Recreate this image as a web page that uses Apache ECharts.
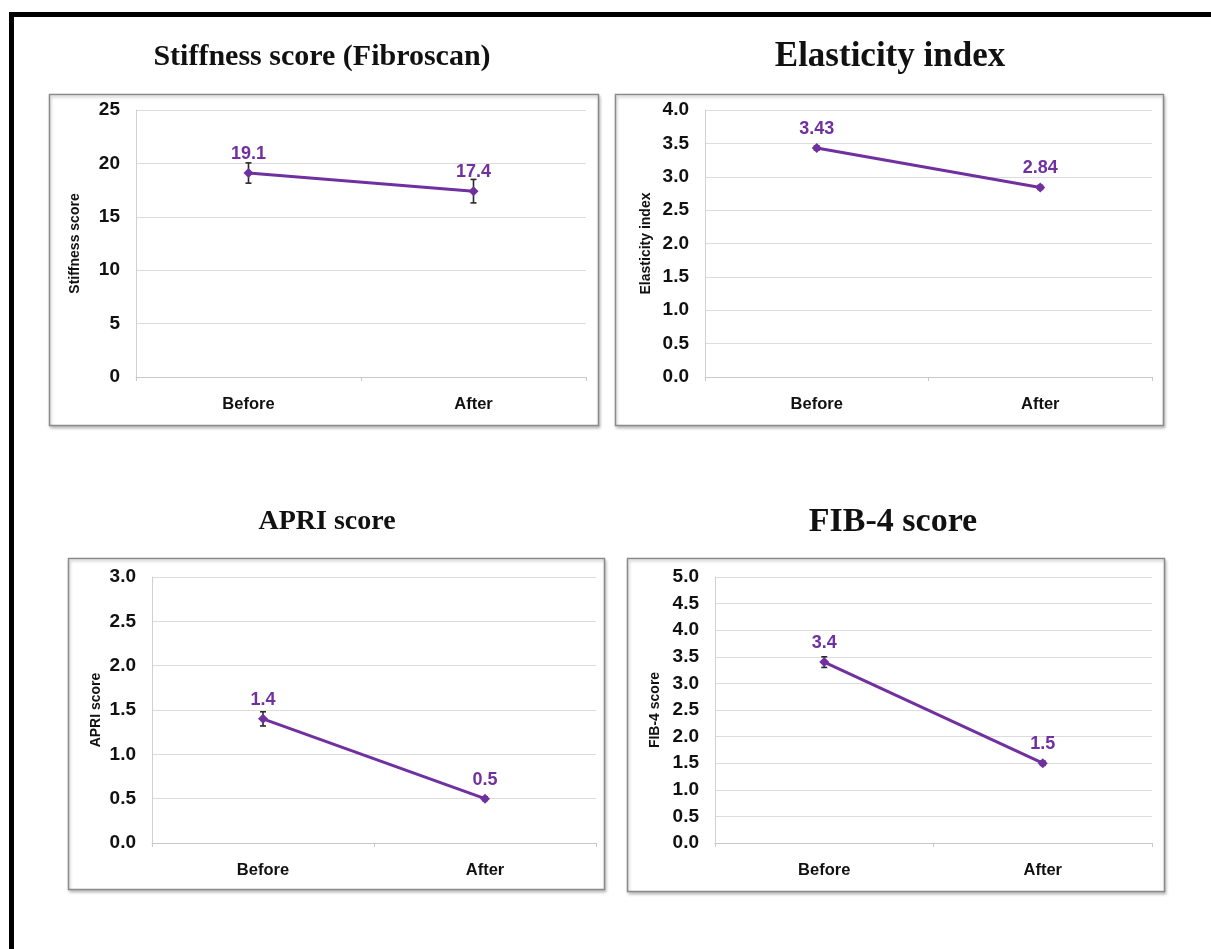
<!DOCTYPE html>
<html>
<head>
<meta charset="utf-8">
<script src="https://cdn.jsdelivr.net/npm/echarts@6/dist/echarts.min.js"></script>
<style>
html,body{margin:0;padding:0;background:#fff;}
#c{width:1211px;height:949px;}
</style>
</head>
<body>
<div id="c"></div>
<script>
// ---- data ----
const categories = ['Before', 'After'];

const panelTitles = ['Stiffness score (Fibroscan)', 'Elasticity index', 'APRI score', 'FIB-4 score'];
const axisNames = ['Stiffness score', 'Elasticity index', 'APRI score', 'FIB-4 score'];

const stiffnessValues = [19.1, 17.4];
const stiffnessErr = [0.95, 1.1];
const elasticityValues = [3.43, 2.84];
const elasticityErr = [0.03, 0.03];
const apriValues = [1.4, 0.5];
const apriErr = [0.08, 0.02];
const fib4Values = [3.4, 1.5];
const fib4Err = [0.1, 0.04];

const stiffnessLabels = ['19.1', '17.4'];
const elasticityLabels = ['3.43', '2.84'];
const apriLabels = ['1.4', '0.5'];
const fib4Labels = ['3.4', '1.5'];

const yMax = [25, 4, 3, 5];
const yInterval = [5, 0.5, 0.5, 0.5];
const yDecimals = [0, 1, 1, 1];

const allValues = [stiffnessValues, elasticityValues, apriValues, fib4Values];
const allErr = [stiffnessErr, elasticityErr, apriErr, fib4Err];
const allLabels = [stiffnessLabels, elasticityLabels, apriLabels, fib4Labels];

// ---- layout (positions only) ----
const grids = [
  {left: 136, right: 625, top: 110, bottom: 572},
  {left: 705, right: 59, top: 110, bottom: 572},
  {left: 152, right: 615, top: 577, bottom: 106},
  {left: 715, right: 59, top: 577, bottom: 106}
];
const boxes = [
  [49, 94, 598, 425],
  [615, 94, 1163, 425],
  [68, 558, 604, 889],
  [627, 558, 1164, 891]
];
const titlePos = [[322, 57, 30], [890, 57, 35], [327, 522, 28], [893, 522, 34]];
const nameGaps = [54, 52, 49, 53];

const purple = '#7030A0';
const tickFont = 'Liberation Sans';

const option = {
  backgroundColor: '#ffffff',
  animation: false,
  grid: grids.map(g => Object.assign({containLabel: false}, g)),
  xAxis: grids.map((g, i) => ({
    type: 'category',
    gridIndex: i,
    data: categories,
    boundaryGap: true,
    axisLine: {show: true, lineStyle: {color: '#c8c8c8', width: 1}},
    axisTick: {show: true, length: 4, lineStyle: {color: '#c8c8c8'}},
    axisLabel: {color: '#111', fontFamily: tickFont, fontWeight: 'bold', fontSize: 16.5, margin: 19}
  })),
  yAxis: grids.map((g, i) => ({
    type: 'value',
    gridIndex: i,
    min: 0,
    max: yMax[i],
    interval: yInterval[i],
    name: axisNames[i],
    nameLocation: 'middle',
    nameGap: nameGaps[i],
    nameTextStyle: {color: '#111', fontFamily: tickFont, fontWeight: 'bold', fontSize: 14},
    axisLine: {show: true, lineStyle: {color: '#d0d0d0', width: 1}},
    axisTick: {show: false},
    axisLabel: {
      color: '#111', fontFamily: tickFont, fontWeight: 'bold', fontSize: 19, margin: 16,
      formatter: v => v.toFixed(yDecimals[i])
    },
    splitLine: {show: true, lineStyle: {color: '#dcdcdc', width: 1}}
  })),
  series: []
};

allValues.forEach((vals, i) => {
  option.series.push({
    type: 'custom',
    xAxisIndex: i,
    yAxisIndex: i,
    z: 1,
    data: vals.map((v, k) => [k, v - allErr[i][k], v + allErr[i][k]]),
    encode: {x: 0, y: [1, 2]},
    renderItem: function (params, api) {
      const x = api.value(0);
      const lo = api.coord([x, api.value(1)]);
      const hi = api.coord([x, api.value(2)]);
      const cap = 3;
      const st = {stroke: '#2a2a2a', lineWidth: 1.6};
      return {
        type: 'group',
        children: [
          {type: 'line', shape: {x1: lo[0], y1: lo[1], x2: hi[0], y2: hi[1]}, style: st},
          {type: 'line', shape: {x1: hi[0] - cap, y1: hi[1], x2: hi[0] + cap, y2: hi[1]}, style: st},
          {type: 'line', shape: {x1: lo[0] - cap, y1: lo[1], x2: lo[0] + cap, y2: lo[1]}, style: st}
        ]
      };
    }
  });
  option.series.push({
    type: 'line',
    xAxisIndex: i,
    yAxisIndex: i,
    z: 3,
    data: vals,
    symbol: 'diamond',
    symbolSize: 10,
    lineStyle: {color: purple, width: 3},
    itemStyle: {color: purple},
    label: {
      show: true,
      position: 'top',
      distance: 5,
      color: purple,
      fontFamily: tickFont,
      fontWeight: 'bold',
      fontSize: 18,
      formatter: p => allLabels[i][p.dataIndex]
    }
  });
});

const graphics = [];
// outer frame (top + left heavy lines)
graphics.push({type: 'rect', z: 0, shape: {x: 9, y: 12, width: 1202, height: 5}, style: {fill: '#000'}});
graphics.push({type: 'rect', z: 0, shape: {x: 9, y: 12, width: 5, height: 937}, style: {fill: '#000'}});
boxes.forEach(b => {
  graphics.push({
    type: 'rect', z: -1,
    shape: {x: b[0] + 0.5, y: b[1] + 0.5, width: b[2] - b[0], height: b[3] - b[1]},
    style: {fill: '#fff', stroke: '#8a8a8a', lineWidth: 1.5, shadowColor: 'rgba(0,0,0,0.25)', shadowBlur: 3, shadowOffsetX: 1, shadowOffsetY: 2}
  });
});
panelTitles.forEach((t, i) => {
  graphics.push({
    type: 'text', z: 5,
    x: titlePos[i][0], y: titlePos[i][1],
    style: {
      text: t, fill: '#111',
      font: 'bold ' + titlePos[i][2] + 'px "Liberation Serif", "DejaVu Serif", serif',
      align: 'center', verticalAlign: 'middle'
    }
  });
});
option.graphic = {elements: graphics};

const chart = echarts.init(document.getElementById('c'), null, {renderer: 'canvas'});
chart.setOption(option);
</script>
</body>
</html>
